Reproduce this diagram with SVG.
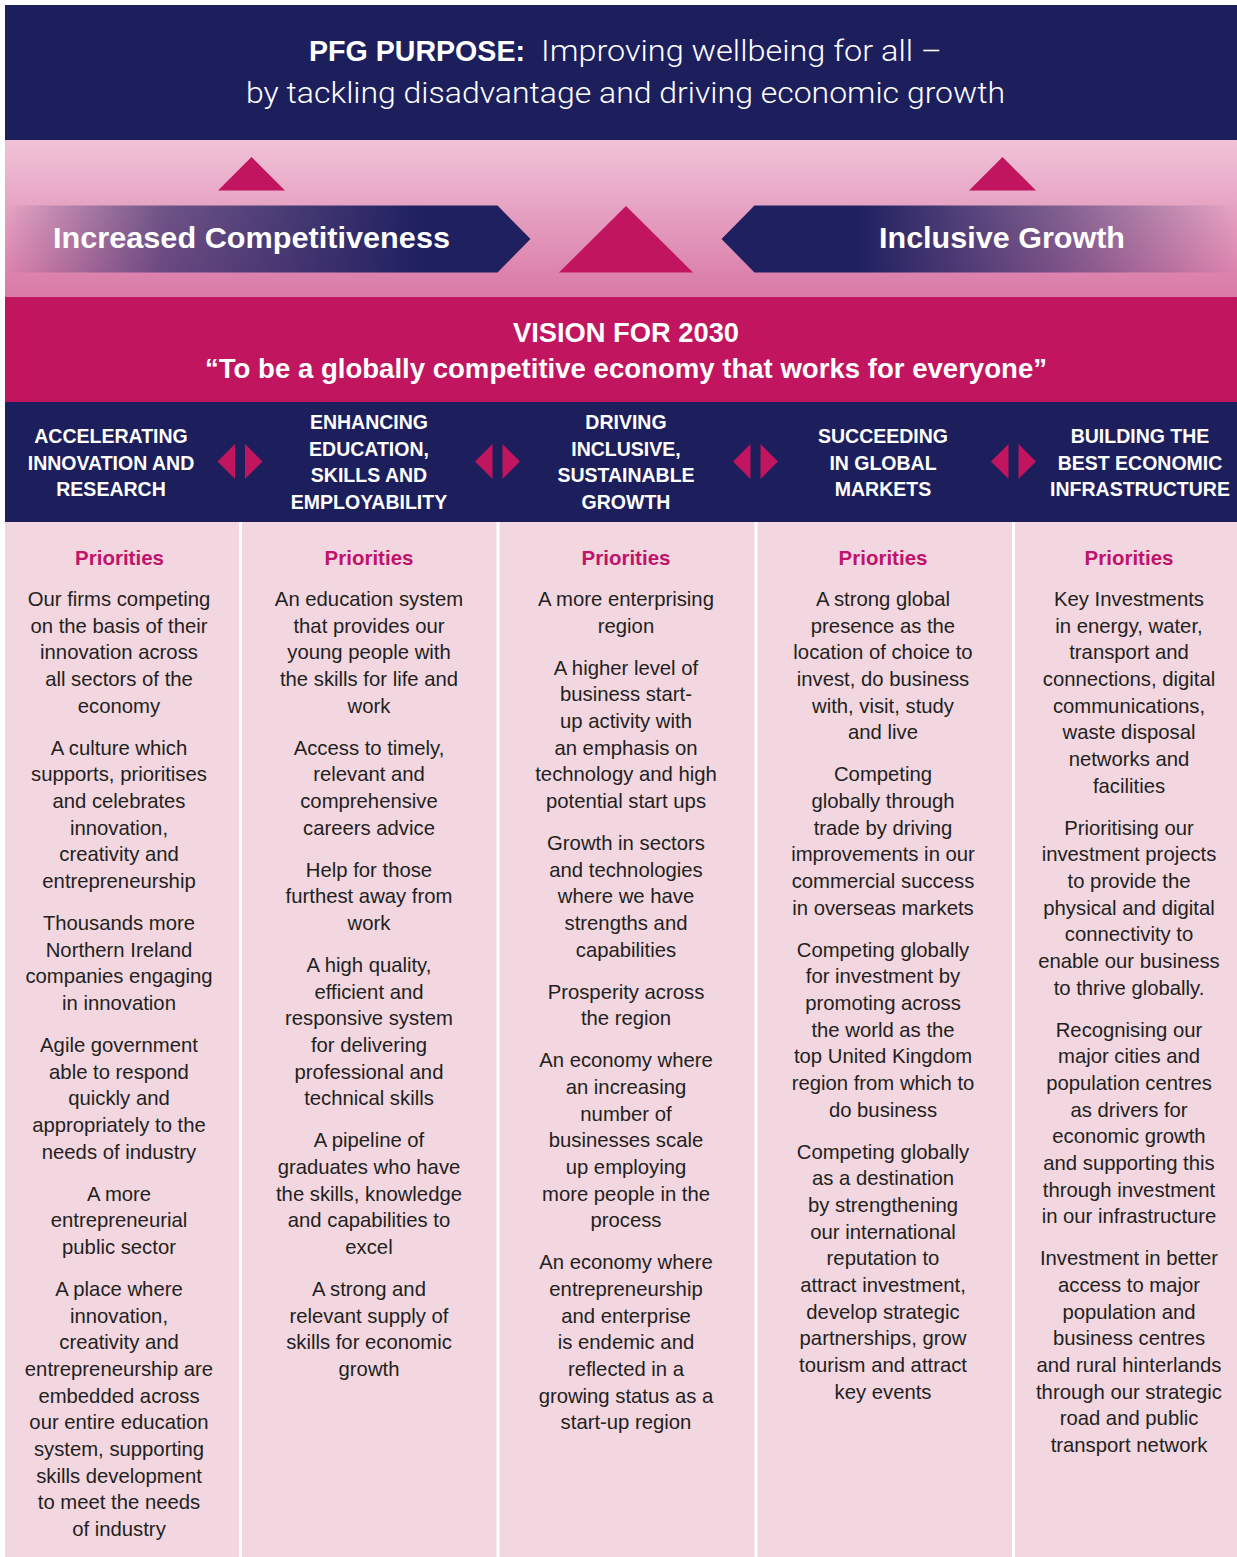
<svg xmlns="http://www.w3.org/2000/svg" width="1237" height="1557" viewBox="0 0 1237 1557">
<defs>
<linearGradient id="bandGrad" x1="0" y1="140" x2="0" y2="297" gradientUnits="userSpaceOnUse">
<stop offset="0" stop-color="#f0c3d8"/>
<stop offset="1" stop-color="#d978a6"/>
</linearGradient>
<linearGradient id="leftGrad" x1="5" y1="0" x2="530" y2="0" gradientUnits="userSpaceOnUse">
<stop offset="0" stop-color="#1e2060" stop-opacity="0"/>
<stop offset="0.3" stop-color="#1e2060" stop-opacity="0.6"/>
<stop offset="0.8" stop-color="#1e2060" stop-opacity="1"/>
</linearGradient>
<linearGradient id="rightGrad" x1="855" y1="0" x2="1237" y2="0" gradientUnits="userSpaceOnUse">
<stop offset="0" stop-color="#1e2060" stop-opacity="1"/>
<stop offset="0.55" stop-color="#1e2060" stop-opacity="0.5"/>
<stop offset="1" stop-color="#1e2060" stop-opacity="0"/>
</linearGradient>
<style>
.navy{fill:#1d1f5d}
.mag{fill:#c1155f}
.col{fill:#f2d6e0}
.ttl{font-family:"Liberation Sans",Arial,sans-serif;font-weight:bold;fill:#fff}
.lite{font-family:Roboto,Lato,"Liberation Sans",sans-serif;font-weight:300;fill:#fff}
.hd{font-family:"Liberation Sans",Arial,sans-serif;font-weight:bold;font-size:19.5px;fill:#fff;text-anchor:middle}
.pri{font-family:"Liberation Sans",Arial,sans-serif;font-weight:bold;font-size:20.5px;fill:#c0136a;text-anchor:middle}
.body{font-family:"Liberation Sans",Arial,sans-serif;font-size:20.3px;fill:#231f20;text-anchor:middle}
</style>
</defs>
<rect x="0" y="0" width="1237" height="1557" fill="#ffffff"/>

<g id="purpose">
<rect class="navy" x="5" y="5" width="1232" height="135"/>
<text class="ttl" x="309" y="61" font-size="29" textLength="216" lengthAdjust="spacingAndGlyphs">PFG PURPOSE:</text>
<text class="lite" x="541" y="61" font-size="30" textLength="401" lengthAdjust="spacingAndGlyphs">Improving wellbeing for all –</text>
<text class="lite" x="246" y="103" font-size="30" textLength="759" lengthAdjust="spacingAndGlyphs">by tackling disadvantage and driving economic growth</text>
</g>

<g id="band">
<rect x="5" y="140" width="1232" height="157" fill="url(#bandGrad)"/>
</g>

<g id="increased-competitiveness">
<polygon points="5,205.5 497.5,205.5 530.5,239 497.5,272.5 5,272.5" fill="url(#leftGrad)"/>
<text class="ttl" x="53" y="248" font-size="30" textLength="397" lengthAdjust="spacingAndGlyphs">Increased Competitiveness</text>
</g>

<g id="inclusive-growth">
<polygon points="1237,205.5 754.5,205.5 721.5,239 754.5,272.5 1237,272.5" fill="url(#rightGrad)"/>
<text class="ttl" x="879" y="248" font-size="30" textLength="246" lengthAdjust="spacingAndGlyphs">Inclusive Growth</text>
</g>

<g id="vision">
<rect class="mag" x="5" y="297" width="1232" height="105"/>
<text class="ttl" x="626" y="342" font-size="28" text-anchor="middle" textLength="226" lengthAdjust="spacingAndGlyphs">VISION FOR 2030</text>
<text class="ttl" x="626" y="378" font-size="27" text-anchor="middle" textLength="842" lengthAdjust="spacingAndGlyphs">“To be a globally competitive economy that works for everyone”</text>
</g>

<g id="headers">
<rect class="navy" x="5" y="402" width="1232" height="120"/>
</g>

<g id="pillar-1">
<text class="hd" x="111" y="443">ACCELERATING</text>
<text class="hd" x="111" y="470">INNOVATION AND</text>
<text class="hd" x="111" y="496">RESEARCH</text>
</g>
<g id="pillar-2">
<text class="hd" x="369" y="429">ENHANCING</text>
<text class="hd" x="369" y="456">EDUCATION,</text>
<text class="hd" x="369" y="482">SKILLS AND</text>
<text class="hd" x="369" y="509">EMPLOYABILITY</text>
</g>
<g id="pillar-3">
<text class="hd" x="626" y="429">DRIVING</text>
<text class="hd" x="626" y="456">INCLUSIVE,</text>
<text class="hd" x="626" y="482">SUSTAINABLE</text>
<text class="hd" x="626" y="509">GROWTH</text>
</g>
<g id="pillar-4">
<text class="hd" x="883" y="443">SUCCEEDING</text>
<text class="hd" x="883" y="470">IN GLOBAL</text>
<text class="hd" x="883" y="496">MARKETS</text>
</g>
<g id="pillar-5">
<text class="hd" x="1140" y="443">BUILDING THE</text>
<text class="hd" x="1140" y="470">BEST ECONOMIC</text>
<text class="hd" x="1140" y="496">INFRASTRUCTURE</text>
</g>

<g id="connectors">
<polygon class="mag" points="218,190.5 285,190.5 251.5,157"/>
<polygon class="mag" points="969,190.5 1036,190.5 1002.5,157"/>
<polygon class="mag" points="559,272.5 693,272.5 626,206"/>
<polygon class="mag" points="235,444 235,479 217.5,461.5"/>
<polygon class="mag" points="245,444 245,479 262.5,461.5"/>
<polygon class="mag" points="492.5,444 492.5,479 475,461.5"/>
<polygon class="mag" points="502.5,444 502.5,479 520,461.5"/>
<polygon class="mag" points="750.5,444 750.5,479 733,461.5"/>
<polygon class="mag" points="760.5,444 760.5,479 778,461.5"/>
<polygon class="mag" points="1008.5,444 1008.5,479 991,461.5"/>
<polygon class="mag" points="1018.5,444 1018.5,479 1036,461.5"/>
</g>

<g id="priorities-1">
<rect class="col" x="5" y="522" width="234" height="1035"/>
<text class="pri" x="119.5" y="565">Priorities</text>
<text class="body"><tspan x="119" y="606">Our firms competing</tspan><tspan x="119" dy="26.67">on the basis of their</tspan><tspan x="119" dy="26.67">innovation across</tspan><tspan x="119" dy="26.67">all sectors of the</tspan><tspan x="119" dy="26.67">economy</tspan><tspan x="119" dy="42">A culture which</tspan><tspan x="119" dy="26.67">supports, prioritises</tspan><tspan x="119" dy="26.67">and celebrates</tspan><tspan x="119" dy="26.67">innovation,</tspan><tspan x="119" dy="26.67">creativity and</tspan><tspan x="119" dy="26.67">entrepreneurship</tspan><tspan x="119" dy="42">Thousands more</tspan><tspan x="119" dy="26.67">Northern Ireland</tspan><tspan x="119" dy="26.67">companies engaging</tspan><tspan x="119" dy="26.67">in innovation</tspan><tspan x="119" dy="42">Agile government</tspan><tspan x="119" dy="26.67">able to respond</tspan><tspan x="119" dy="26.67">quickly and</tspan><tspan x="119" dy="26.67">appropriately to the</tspan><tspan x="119" dy="26.67">needs of industry</tspan><tspan x="119" dy="42">A more</tspan><tspan x="119" dy="26.67">entrepreneurial</tspan><tspan x="119" dy="26.67">public sector</tspan><tspan x="119" dy="42">A place where</tspan><tspan x="119" dy="26.67">innovation,</tspan><tspan x="119" dy="26.67">creativity and</tspan><tspan x="119" dy="26.67">entrepreneurship are</tspan><tspan x="119" dy="26.67">embedded across</tspan><tspan x="119" dy="26.67">our entire education</tspan><tspan x="119" dy="26.67">system, supporting</tspan><tspan x="119" dy="26.67">skills development</tspan><tspan x="119" dy="26.67">to meet the needs</tspan><tspan x="119" dy="26.67">of industry</tspan></text>
</g>

<g id="priorities-2">
<rect class="col" x="242" y="522" width="254.5" height="1035"/>
<text class="pri" x="369" y="565">Priorities</text>
<text class="body"><tspan x="369" y="606">An education system</tspan><tspan x="369" dy="26.67">that provides our</tspan><tspan x="369" dy="26.67">young people with</tspan><tspan x="369" dy="26.67">the skills for life and</tspan><tspan x="369" dy="26.67">work</tspan><tspan x="369" dy="42">Access to timely,</tspan><tspan x="369" dy="26.67">relevant and</tspan><tspan x="369" dy="26.67">comprehensive</tspan><tspan x="369" dy="26.67">careers advice</tspan><tspan x="369" dy="42">Help for those</tspan><tspan x="369" dy="26.67">furthest away from</tspan><tspan x="369" dy="26.67">work</tspan><tspan x="369" dy="42">A high quality,</tspan><tspan x="369" dy="26.67">efficient and</tspan><tspan x="369" dy="26.67">responsive system</tspan><tspan x="369" dy="26.67">for delivering</tspan><tspan x="369" dy="26.67">professional and</tspan><tspan x="369" dy="26.67">technical skills</tspan><tspan x="369" dy="42">A pipeline of</tspan><tspan x="369" dy="26.67">graduates who have</tspan><tspan x="369" dy="26.67">the skills, knowledge</tspan><tspan x="369" dy="26.67">and capabilities to</tspan><tspan x="369" dy="26.67">excel</tspan><tspan x="369" dy="42">A strong and</tspan><tspan x="369" dy="26.67">relevant supply of</tspan><tspan x="369" dy="26.67">skills for economic</tspan><tspan x="369" dy="26.67">growth</tspan></text>
</g>

<g id="priorities-3">
<rect class="col" x="499.5" y="522" width="255" height="1035"/>
<text class="pri" x="626" y="565">Priorities</text>
<text class="body"><tspan x="626" y="606">A more enterprising</tspan><tspan x="626" dy="26.67">region</tspan><tspan x="626" dy="42">A higher level of</tspan><tspan x="626" dy="26.67">business start-</tspan><tspan x="626" dy="26.67">up activity with</tspan><tspan x="626" dy="26.67">an emphasis on</tspan><tspan x="626" dy="26.67">technology and high</tspan><tspan x="626" dy="26.67">potential start ups</tspan><tspan x="626" dy="42">Growth in sectors</tspan><tspan x="626" dy="26.67">and technologies</tspan><tspan x="626" dy="26.67">where we have</tspan><tspan x="626" dy="26.67">strengths and</tspan><tspan x="626" dy="26.67">capabilities</tspan><tspan x="626" dy="42">Prosperity across</tspan><tspan x="626" dy="26.67">the region</tspan><tspan x="626" dy="42">An economy where</tspan><tspan x="626" dy="26.67">an increasing</tspan><tspan x="626" dy="26.67">number of</tspan><tspan x="626" dy="26.67">businesses scale</tspan><tspan x="626" dy="26.67">up employing</tspan><tspan x="626" dy="26.67">more people in the</tspan><tspan x="626" dy="26.67">process</tspan><tspan x="626" dy="42">An economy where</tspan><tspan x="626" dy="26.67">entrepreneurship</tspan><tspan x="626" dy="26.67">and enterprise</tspan><tspan x="626" dy="26.67">is endemic and</tspan><tspan x="626" dy="26.67">reflected in a</tspan><tspan x="626" dy="26.67">growing status as a</tspan><tspan x="626" dy="26.67">start-up region</tspan></text>
</g>

<g id="priorities-4">
<rect class="col" x="757.5" y="522" width="254.5" height="1035"/>
<text class="pri" x="883" y="565">Priorities</text>
<text class="body"><tspan x="883" y="606">A strong global</tspan><tspan x="883" dy="26.67">presence as the</tspan><tspan x="883" dy="26.67">location of choice to</tspan><tspan x="883" dy="26.67">invest, do business</tspan><tspan x="883" dy="26.67">with, visit, study</tspan><tspan x="883" dy="26.67">and live</tspan><tspan x="883" dy="42">Competing</tspan><tspan x="883" dy="26.67">globally through</tspan><tspan x="883" dy="26.67">trade by driving</tspan><tspan x="883" dy="26.67">improvements in our</tspan><tspan x="883" dy="26.67">commercial success</tspan><tspan x="883" dy="26.67">in overseas markets</tspan><tspan x="883" dy="42">Competing globally</tspan><tspan x="883" dy="26.67">for investment by</tspan><tspan x="883" dy="26.67">promoting across</tspan><tspan x="883" dy="26.67">the world as the</tspan><tspan x="883" dy="26.67">top United Kingdom</tspan><tspan x="883" dy="26.67">region from which to</tspan><tspan x="883" dy="26.67">do business</tspan><tspan x="883" dy="42">Competing globally</tspan><tspan x="883" dy="26.67">as a destination</tspan><tspan x="883" dy="26.67">by strengthening</tspan><tspan x="883" dy="26.67">our international</tspan><tspan x="883" dy="26.67">reputation to</tspan><tspan x="883" dy="26.67">attract investment,</tspan><tspan x="883" dy="26.67">develop strategic</tspan><tspan x="883" dy="26.67">partnerships, grow</tspan><tspan x="883" dy="26.67">tourism and attract</tspan><tspan x="883" dy="26.67">key events</tspan></text>
</g>

<g id="priorities-5">
<rect class="col" x="1015" y="522" width="222" height="1035"/>
<text class="pri" x="1129" y="565">Priorities</text>
<text class="body"><tspan x="1129" y="606">Key Investments</tspan><tspan x="1129" dy="26.67">in energy, water,</tspan><tspan x="1129" dy="26.67">transport and</tspan><tspan x="1129" dy="26.67">connections, digital</tspan><tspan x="1129" dy="26.67">communications,</tspan><tspan x="1129" dy="26.67">waste disposal</tspan><tspan x="1129" dy="26.67">networks and</tspan><tspan x="1129" dy="26.67">facilities</tspan><tspan x="1129" dy="42">Prioritising our</tspan><tspan x="1129" dy="26.67">investment projects</tspan><tspan x="1129" dy="26.67">to provide the</tspan><tspan x="1129" dy="26.67">physical and digital</tspan><tspan x="1129" dy="26.67">connectivity to</tspan><tspan x="1129" dy="26.67">enable our business</tspan><tspan x="1129" dy="26.67">to thrive globally.</tspan><tspan x="1129" dy="42">Recognising our</tspan><tspan x="1129" dy="26.67">major cities and</tspan><tspan x="1129" dy="26.67">population centres</tspan><tspan x="1129" dy="26.67">as drivers for</tspan><tspan x="1129" dy="26.67">economic growth</tspan><tspan x="1129" dy="26.67">and supporting this</tspan><tspan x="1129" dy="26.67">through investment</tspan><tspan x="1129" dy="26.67">in our infrastructure</tspan><tspan x="1129" dy="42">Investment in better</tspan><tspan x="1129" dy="26.67">access to major</tspan><tspan x="1129" dy="26.67">population and</tspan><tspan x="1129" dy="26.67">business centres</tspan><tspan x="1129" dy="26.67">and rural hinterlands</tspan><tspan x="1129" dy="26.67">through our strategic</tspan><tspan x="1129" dy="26.67">road and public</tspan><tspan x="1129" dy="26.67">transport network</tspan></text>
</g>
</svg>
